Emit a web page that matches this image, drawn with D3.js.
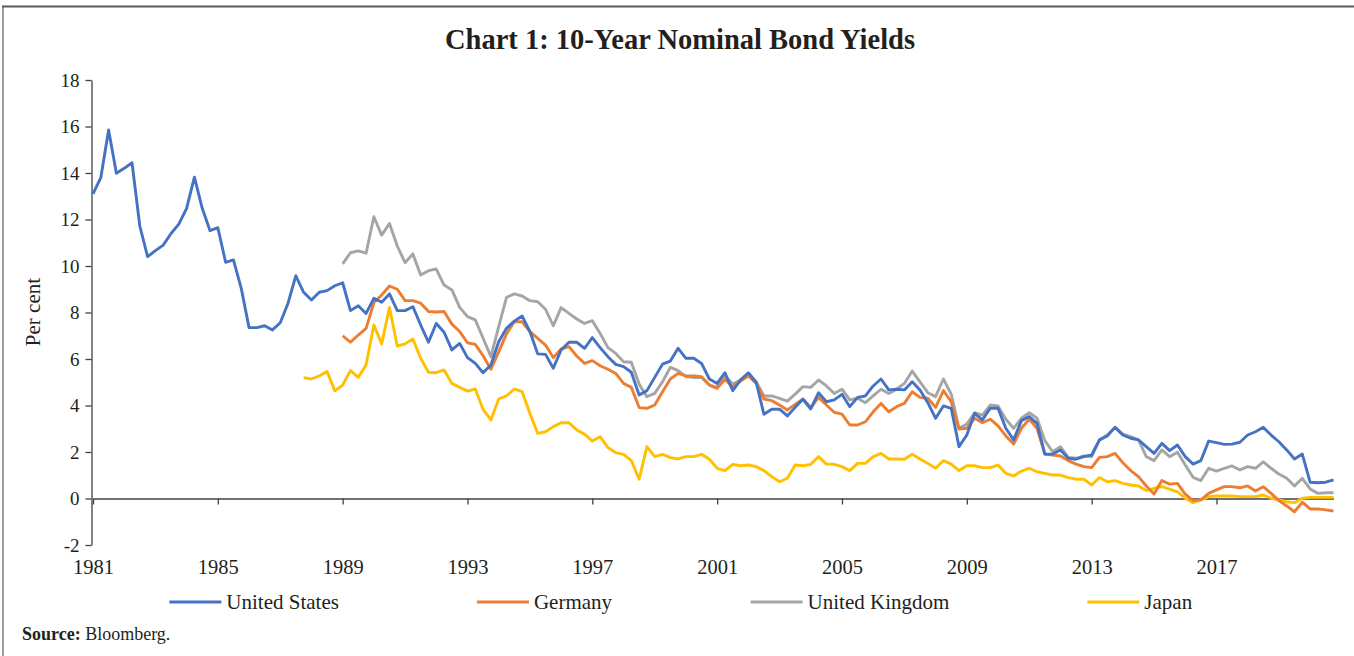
<!DOCTYPE html>
<html>
<head>
<meta charset="utf-8">
<style>
    html, body { margin: 0; padding: 0; background: #fff; }
    #bond-yields { width: 1354px; height: 656px; }
    .chart text { font-family: "Liberation Serif", "DejaVu Serif", serif; fill: #231f20; }
    .axis path, .axis line { stroke: #404040; stroke-width: 1.3; }
    .series path { fill: none; stroke-width: 2.9; stroke-linejoin: round; }
    .united-states { stroke: #4472c4; }
    .germany { stroke: #ed7d31; }
    .united-kingdom { stroke: #a5a5a5; }
    .japan { stroke: #ffc000; }
    .legend line { stroke-width: 2.9; }
</style>
<script src="https://cdn.jsdelivr.net/npm/d3@7/dist/d3.min.js"></script>
</head>
<body>
<div id="bond-yields"></div>
<script>
const tickYears = [1981, 1985, 1989, 1993, 1997, 2001, 2005, 2009, 2013, 2017];
const yTicks = [-2, 0, 2, 4, 6, 8, 10, 12, 14, 16, 18];
const countries = ["United States", "Germany", "United Kingdom", "Japan"];

// first quarter of each series, as a decimal year (quarterly data)
const usStart = 1981;
const germanyStart = 1989;
const ukStart = 1989;
const japanStart = 1987.75;
const lastQuarter = 2020.75;

const usYields = [
    13.1, 13.8, 15.85, 13.99, 14.2, 14.44, 11.72, 10.4, 10.66, 10.9,
    11.4, 11.8, 12.48, 13.82, 12.48, 11.52, 11.65, 10.16, 10.26, 9.04,
    7.35, 7.35, 7.43, 7.25, 7.56, 8.4, 9.58, 8.87, 8.54, 8.87,
    8.94, 9.15, 9.28, 8.08, 8.29, 7.96, 8.61, 8.44, 8.8, 8.08,
    8.08, 8.25, 7.46, 6.72, 7.53, 7.15, 6.39, 6.67, 6.06, 5.81,
    5.41, 5.74, 6.74, 7.32, 7.63, 7.85, 7.18, 6.22, 6.2, 5.6,
    6.39, 6.72, 6.72, 6.46, 6.92, 6.49, 6.1, 5.77, 5.67, 5.43,
    4.45, 4.64, 5.21, 5.78, 5.91, 6.46, 6.03, 6.03, 5.81, 5.14,
    4.95, 5.41, 4.64, 5.1, 5.41, 5.0, 3.62, 3.84, 3.84, 3.55,
    3.92, 4.27, 3.85, 4.55, 4.16, 4.24, 4.48, 3.95, 4.35, 4.41,
    4.84, 5.14, 4.67, 4.7, 4.67, 5.02, 4.67, 4.12, 3.45, 3.98,
    3.88, 2.23, 2.73, 3.66, 3.38, 3.88, 3.88, 3.02, 2.52, 3.35,
    3.52, 3.23, 1.91, 1.91, 2.09, 1.73, 1.69, 1.8, 1.87, 2.52,
    2.69, 3.06, 2.73, 2.59, 2.52, 2.23, 1.94, 2.37, 2.06, 2.3,
    1.8, 1.48, 1.63, 2.47, 2.4, 2.33, 2.34, 2.42, 2.73, 2.87,
    3.06, 2.73, 2.44, 2.09, 1.7, 1.91, 0.7, 0.68, 0.7, 0.8
];

const germanyYields = [
    7.0, 6.72, 7.03, 7.32, 8.42, 8.75, 9.14, 9.0, 8.51, 8.51,
    8.4, 8.04, 8.02, 8.04, 7.5, 7.18, 6.7, 6.63, 6.14, 5.56,
    6.31, 7.08, 7.6, 7.6, 7.18, 6.89, 6.6, 6.06, 6.43, 6.53,
    6.13, 5.81, 5.93, 5.71, 5.56, 5.38, 4.95, 4.78, 3.91, 3.88,
    4.02, 4.59, 5.14, 5.38, 5.27, 5.27, 5.24, 4.88, 4.74, 5.13,
    4.78, 5.05, 5.27, 4.95, 4.28, 4.21, 4.02, 3.81, 4.05, 4.28,
    3.91, 4.35, 4.02, 3.71, 3.63, 3.16, 3.16, 3.3, 3.73, 4.09,
    3.73, 3.95, 4.09, 4.59, 4.35, 4.31, 3.92, 4.64, 4.16, 2.99,
    3.02, 3.45, 3.26, 3.41, 3.12, 2.69, 2.34, 3.02, 3.41, 3.02,
    1.91, 1.87, 1.83, 1.63, 1.48, 1.37, 1.33, 1.77, 1.8, 1.94,
    1.54, 1.2, 0.94, 0.54, 0.19, 0.77, 0.62, 0.65, 0.19, -0.09,
    -0.06, 0.22, 0.37, 0.51, 0.51, 0.46, 0.54, 0.32, 0.51, 0.22,
    -0.09, -0.32, -0.57, -0.16, -0.45, -0.45, -0.49, -0.54
];

const ukYields = [
    10.09, 10.57, 10.65, 10.55, 12.12, 11.33, 11.83, 10.86, 10.14, 10.52,
    9.61, 9.8, 9.87, 9.18, 8.97, 8.22, 7.82, 7.68, 6.89, 6.1,
    7.39, 8.65, 8.8, 8.71, 8.51, 8.46, 8.14, 7.43, 8.21, 7.96,
    7.72, 7.53, 7.65, 7.1, 6.49, 6.24, 5.88, 5.86, 4.92, 4.38,
    4.52, 5.02, 5.64, 5.5, 5.24, 5.2, 5.21, 4.88, 4.78, 5.27,
    4.92, 5.1, 5.35, 5.02, 4.41, 4.41, 4.31, 4.19, 4.49, 4.81,
    4.78, 5.1, 4.84, 4.52, 4.7, 4.24, 4.31, 4.12, 4.41, 4.7,
    4.52, 4.7, 4.95, 5.48, 5.02, 4.55, 4.38, 5.14, 4.49, 3.02,
    3.2, 3.69, 3.59, 4.02, 3.98, 3.41, 3.02, 3.45, 3.69, 3.45,
    2.49, 2.01, 2.23, 1.77, 1.73, 1.83, 1.8, 2.52, 2.73, 3.06,
    2.77, 2.66, 2.52, 1.8, 1.63, 2.09, 1.8, 1.99, 1.44, 0.91,
    0.77, 1.3, 1.18, 1.3, 1.4, 1.23, 1.37, 1.3, 1.58, 1.3,
    1.05, 0.87, 0.54, 0.87, 0.41, 0.22, 0.25, 0.25
];

const japanYields = [
    5.2, 5.14, 5.27, 5.46, 4.63, 4.88, 5.5, 5.21, 5.74, 7.46,
    6.65, 8.22, 6.56, 6.65, 6.86, 6.03, 5.43, 5.41, 5.53, 4.95,
    4.78, 4.62, 4.71, 3.83, 3.38, 4.28, 4.41, 4.71, 4.6, 3.66,
    2.8, 2.87, 3.09, 3.26, 3.26, 2.95, 2.77, 2.47, 2.66, 2.19,
    1.97, 1.9, 1.63, 0.83, 2.23, 1.8, 1.9, 1.76, 1.7, 1.8,
    1.8, 1.9, 1.69, 1.3, 1.2, 1.47, 1.41, 1.44, 1.37, 1.2,
    0.94, 0.72, 0.87, 1.44, 1.41, 1.47, 1.8, 1.48, 1.47, 1.37,
    1.2, 1.51, 1.51, 1.8, 1.94, 1.7, 1.7, 1.69, 1.9, 1.7,
    1.51, 1.3, 1.63, 1.48, 1.2, 1.41, 1.41, 1.33, 1.33, 1.44,
    1.08, 0.97, 1.18, 1.3, 1.15, 1.08, 1.01, 1.01, 0.9, 0.83,
    0.83, 0.58, 0.9, 0.72, 0.77, 0.65, 0.58, 0.54, 0.34, 0.44,
    0.51, 0.4, 0.29, 0.01, -0.18, -0.06, 0.08, 0.11, 0.11, 0.11,
    0.08, 0.08, 0.08, 0.15, 0.01, -0.06, -0.14, -0.18, 0.01, 0.05,
    0.05, 0.05, 0.05
];

(function () {
    "use strict";

    function toKebabCase(value) {
        return value.replace(/\s+/g, '-').toLowerCase();
    }

    function toPoints(start, values) {
        return values.map((v, k) => ({ x: start + k / 4, y: v }));
    }

    function getSeries() {
        const starts = [usStart, germanyStart, ukStart, japanStart];
        const values = [usYields, germanyYields, ukYields, japanYields];
        return countries.map((name, k) => ({
            name: name,
            data: toPoints(starts[k], values[k])
        }));
    }

    function drawLegend(selection, series, centerX, y) {
        const canvas = selection.append("g")
            .attr("class", "legend");

        let translateX = 0;
        for (const entry of series) {
            const item = canvas.append("g")
                .attr("transform", `translate(${translateX},0)`);

            item.append("line")
                .attr("class", toKebabCase(entry.name))
                .attr("x2", 52);

            item.append("text")
                .attr("x", 57)
                .attr("dy", "0.32em")
                .style("font-size", "21px")
                .text(entry.name);

            translateX += item.node().getBBox().width + 138;
        }

        const width = canvas.node().getBBox().width;
        canvas.attr("transform", `translate(${centerX - width / 2},${y})`);
        return canvas;
    }

    function drawChart(selection) {
        const width = 1354;
        const height = 656;

        const svg = selection.append("svg")
            .attr("class", "chart")
            .attr("width", width)
            .attr("height", height);

        // frame of the exhibit box
        svg.append("line")
            .attr("x1", 2).attr("x2", width)
            .attr("y1", 6.5).attr("y2", 6.5)
            .attr("stroke", "#5a5a5a")
            .attr("stroke-width", 2);
        svg.append("line")
            .attr("x1", 3).attr("x2", 3)
            .attr("y1", 6).attr("y2", height)
            .attr("stroke", "#5a5a5a")
            .attr("stroke-width", 1.2);

        svg.append("text")
            .attr("x", 680)
            .attr("y", 49)
            .attr("text-anchor", "middle")
            .style("font-size", "28.5px")
            .style("font-weight", "bold")
            .text("Chart 1: 10-Year Nominal Bond Yields");

        const xScale = d3.scaleLinear()
            .domain([usStart, lastQuarter])
            .range([93, 1333.5]);

        const yScale = d3.scaleLinear()
            .domain([-2, 18])
            .range([545, 80]);

        const yAxis = d3.axisLeft(yScale)
            .tickValues(yTicks)
            .tickFormat(d => String(d))
            .tickSizeInner(6)
            .tickSizeOuter(0)
            .tickPadding(6);

        const yAxisGroup = svg.append("g")
            .attr("class", "axis y-axis")
            .attr("transform", "translate(91.5,0)")
            .call(yAxis);

        yAxisGroup.selectAll(".tick text")
            .style("font-size", "19px");

        svg.append("text")
            .attr("x", 40)
            .attr("y", 312)
            .attr("text-anchor", "middle")
            .attr("transform", "rotate(-90,40,312)")
            .style("font-size", "21px")
            .text("Per cent");

        const xAxis = d3.axisBottom(xScale)
            .tickValues(tickYears)
            .tickFormat(d3.format("d"))
            .tickSizeInner(6)
            .tickSizeOuter(0);

        const xAxisGroup = svg.append("g")
            .attr("class", "axis x-axis")
            .attr("transform", `translate(0,${yScale(0)})`)
            .call(xAxis);

        // labels sit below the plot area, under the -2 gridline
        xAxisGroup.selectAll(".tick text")
            .attr("y", yScale(-2) - yScale(0) + 14)
            .attr("dy", "0.71em")
            .style("font-size", "20.5px");

        const series = getSeries();

        const line = d3.line()
            .x(d => xScale(d.x))
            .y(d => yScale(d.y));

        const canvas = svg.append("g")
            .attr("class", "series");

        // draw in reverse so the US line sits on top
        for (const entry of series.slice().reverse()) {
            canvas.append("path")
                .attr("class", toKebabCase(entry.name))
                .attr("d", line(entry.data));
        }

        drawLegend(svg, series, 681, 602);

        const source = svg.append("text")
            .attr("x", 22)
            .attr("y", 640)
            .style("font-size", "18px");
        source.append("tspan")
            .style("font-weight", "bold")
            .text("Source:");
        source.append("tspan")
            .text(" Bloomberg.");
    }

    d3.select("#bond-yields")
        .call(drawChart);
}());
</script>
</body>
</html>
